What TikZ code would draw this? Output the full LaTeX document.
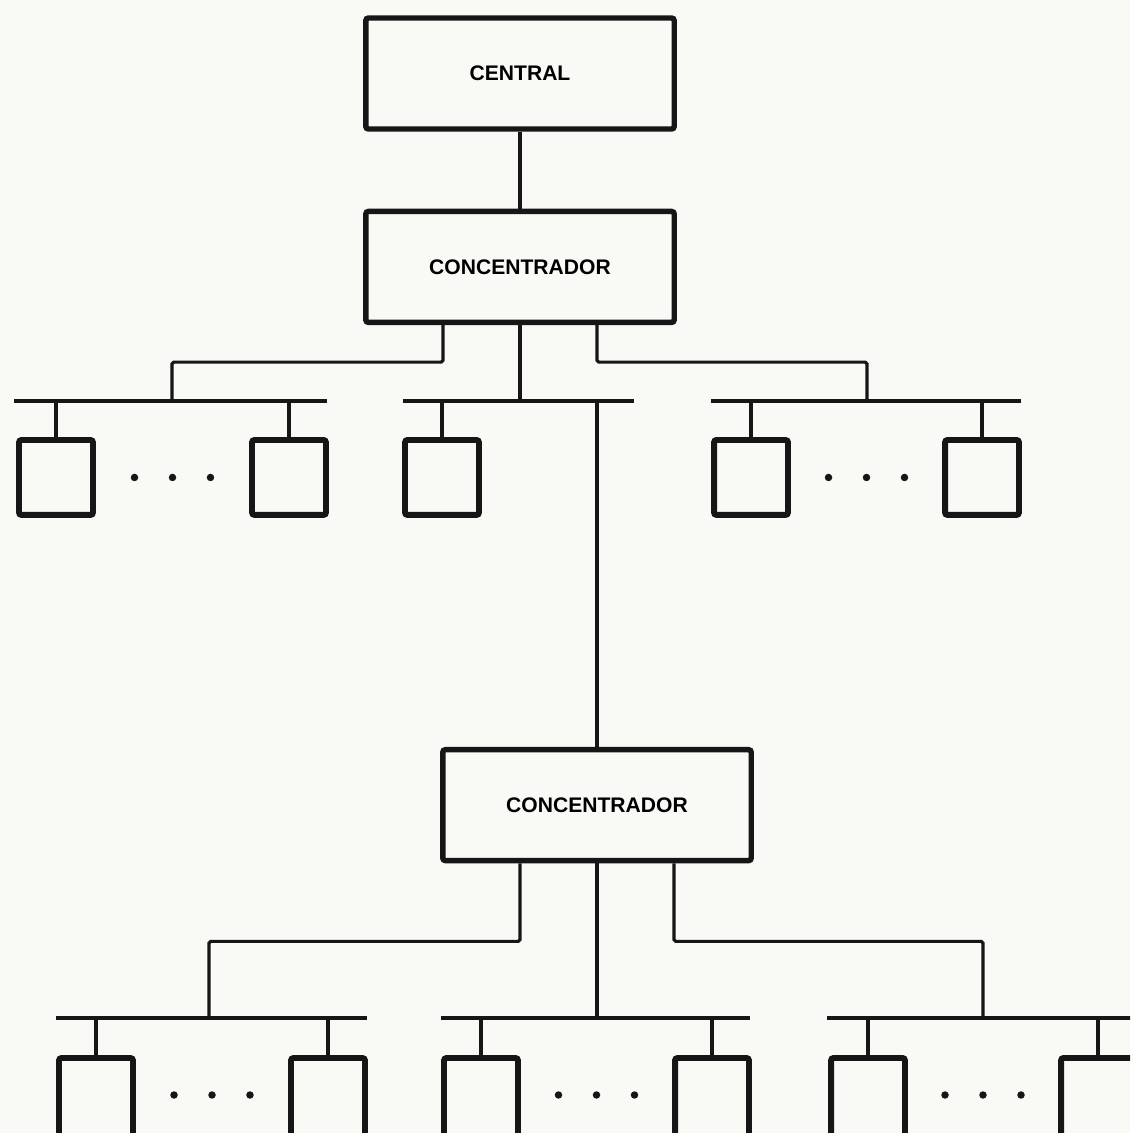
\documentclass[tikz,border=0pt]{standalone}
\usepackage{fontspec}
\setmainfont{Liberation Sans}
\usetikzlibrary{positioning}

\definecolor{paper}{RGB}{249,249,245}
\definecolor{ink}{RGB}{22,22,22}

\begin{document}
\begin{tikzpicture}[
    x=0.02cm, y=-0.02cm,
    font=\fontsize{12}{14}\selectfont\bfseries,
    hub/.style={
        rectangle, rounded corners=1.5pt,
        draw=ink, line width=3.1pt,
        minimum width=6.17cm, minimum height=2.22cm,
        align=center
    },
    term/.style={
        rectangle, rounded corners=1.5pt,
        draw=ink, line width=3.4pt,
        minimum width=1.48cm, minimum height=1.5cm
    },
    termcut/.style={term, minimum height=2.2cm},
    link/.style={draw=ink, line width=1.8pt, rounded corners=1pt}
]

\useasboundingbox (0,0) rectangle (1130,1133);
\fill[paper] (0,0) rectangle (1130,1133);
\clip (0,0) rectangle (1130,1133);

% ============ Central and first concentrator ============
\node[hub] (central) at (520,73.5) {CENTRAL};
\node[hub, below=1.54cm of central] (conc1) {CONCENTRADOR};

% ============ First level buses ============
\coordinate (busA-w) at (14,401);  \coordinate (busA-e) at (327,401);
\coordinate (busB-w) at (403,401); \coordinate (busB-e) at (634,401);
\coordinate (busC-w) at (711,401); \coordinate (busC-e) at (1021,401);
\coordinate (jA) at (172,401);
\coordinate (jB) at (520,401);
\coordinate (jC) at (867,401);
\coordinate (dA1) at (56,401);  \coordinate (dA2) at (289,401);
\coordinate (dB1) at (442,401); \coordinate (dB2) at (597,401);
\coordinate (dC1) at (751,401); \coordinate (dC2) at (982,401);

% ============ First level terminals ============
\node[term, below=0.72cm of dA1] (tA1) {};
\node[term, below=0.72cm of dA2] (tA2) {};
\node[term, below=0.72cm of dB1] (tB1) {};
\node[term, below=0.72cm of dC1] (tC1) {};
\node[term, below=0.72cm of dC2] (tC2) {};

% ============ Second concentrator ============
\node[hub, below=6.92cm of dB2] (conc2) {CONCENTRADOR};

% ============ Second level buses ============
\coordinate (busD-w) at (56,1018);  \coordinate (busD-e) at (367,1018);
\coordinate (busE-w) at (441,1018); \coordinate (busE-e) at (750,1018);
\coordinate (busF-w) at (827,1018); \coordinate (busF-e) at (1140,1018);
\coordinate (jD) at (209,1018);
\coordinate (jE) at (597,1018);
\coordinate (jF) at (983,1018);
\coordinate (dD1) at (96,1018);  \coordinate (dD2) at (328,1018);
\coordinate (dE1) at (481,1018); \coordinate (dE2) at (712,1018);
\coordinate (dF1) at (868,1018); \coordinate (dF2) at (1098,1018);

% ============ Second level terminals ============
\node[termcut, below=0.74cm of dD1] (tD1) {};
\node[termcut, below=0.74cm of dD2] (tD2) {};
\node[termcut, below=0.74cm of dE1] (tE1) {};
\node[termcut, below=0.74cm of dE2] (tE2) {};
\node[termcut, below=0.74cm of dF1] (tF1) {};
\node[termcut, below=0.74cm of dF2] (tF2) {};

% ============ Links from the central ============
\draw[link] (central.south) -- (conc1.north);
\draw[link] ([xshift=-1.54cm]conc1.south) -- ++(0,37) -| (jA);
\draw[link] (conc1.south) -- (jB);
\draw[link] ([xshift=1.54cm]conc1.south) -- ++(0,37) -| (jC);

\draw[link] (busA-w) -- (busA-e);
\draw[link] (busB-w) -- (busB-e);
\draw[link] (busC-w) -- (busC-e);
\draw[link] (dA1) -- (tA1);
\draw[link] (dA2) -- (tA2);
\draw[link] (dB1) -- (tB1);
\draw[link] (dC1) -- (tC1);
\draw[link] (dC2) -- (tC2);
\draw[link] (dB2) -- (conc2.north);

% ============ Links from the second concentrator ============
\draw[link] ([xshift=-1.54cm]conc2.south) -- ++(0,78) -| (jD);
\draw[link] (conc2.south) -- (jE);
\draw[link] ([xshift=1.54cm]conc2.south) -- ++(0,78) -| (jF);

\draw[link] (busD-w) -- (busD-e);
\draw[link] (busE-w) -- (busE-e);
\draw[link] (busF-w) -- (busF-e);
\draw[link] (dD1) -- (tD1);
\draw[link] (dD2) -- (tD2);
\draw[link] (dE1) -- (tE1);
\draw[link] (dE2) -- (tE2);
\draw[link] (dF1) -- (tF1);
\draw[link] (dF2) -- (tF2);

% ============ Ellipsis dots ============
\path (tA1) -- coordinate[midway] (gapA) (tA2);
\path (tC1) -- coordinate[midway] (gapC) (tC2);
\path (tD1.north) -- coordinate[midway] (gapD) (tD2.north);
\path (tE1.north) -- coordinate[midway] (gapE) (tE2.north);
\path (tF1.north) -- coordinate[midway] (gapF) (tF2.north);
\foreach \g/\dy in {gapA/0, gapC/0, gapD/-0.8, gapE/-0.8, gapF/-0.8}
    \foreach \dx in {-0.76,0,0.76}
        \fill[ink] ([xshift=\dx cm, yshift=\dy cm]\g) circle[radius=0.075cm];

\end{tikzpicture}
\end{document}
